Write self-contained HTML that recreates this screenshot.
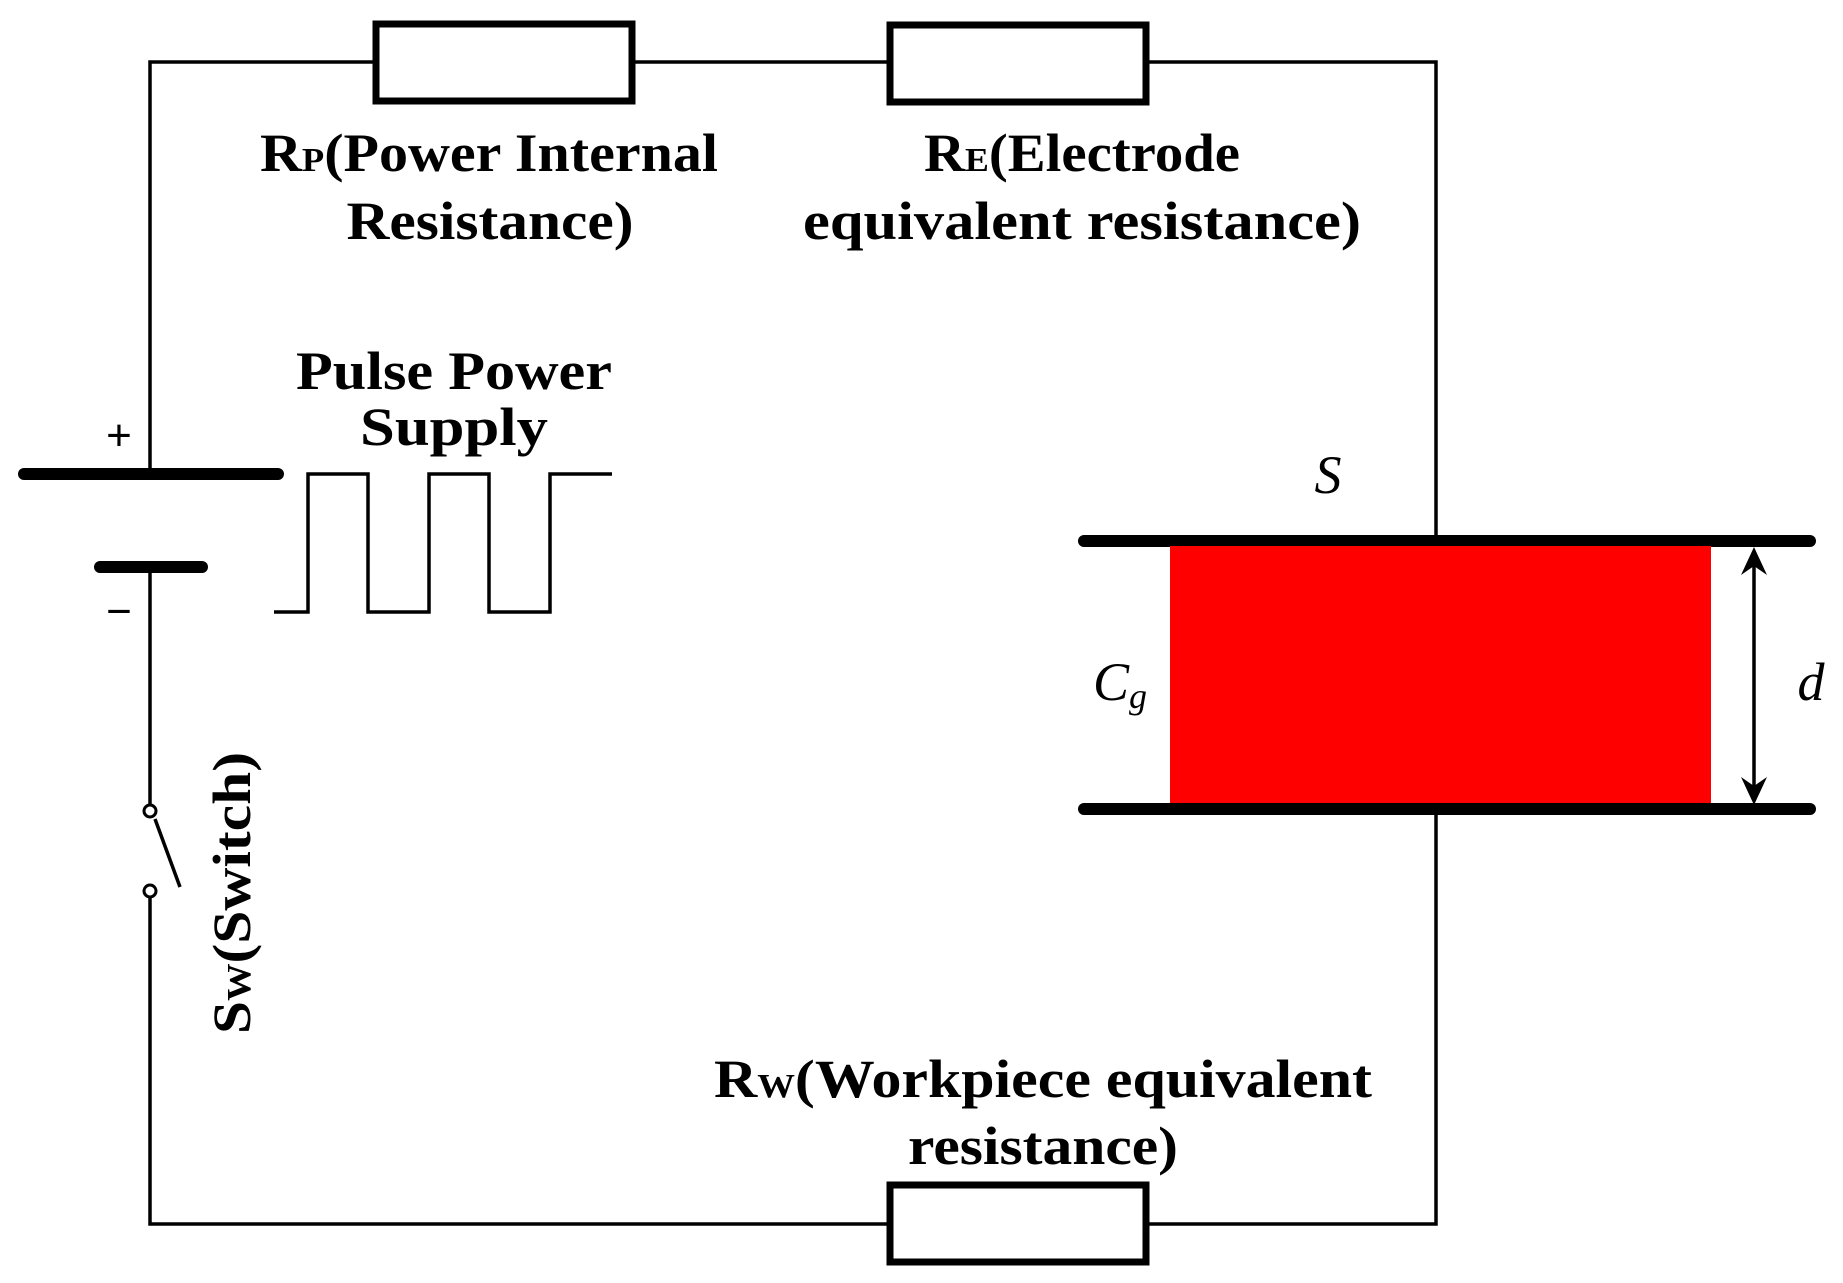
<!DOCTYPE html>
<html><head><meta charset="utf-8"><style>html,body{margin:0;padding:0;background:#fff}svg{display:block}</style></head>
<body>
<svg width="1843" height="1283" viewBox="0 0 1843 1283" xmlns="http://www.w3.org/2000/svg">
<g stroke="#000" fill="none" stroke-width="3.5">
<polyline points="150,474 150,62 376,62"/>
<line x1="632" y1="62" x2="890" y2="62"/>
<polyline points="1146,62 1436,62 1436,541"/>
<polyline points="1436,809 1436,1224 1146,1224"/>
<polyline points="890,1224 150,1224 150,891"/>
<line x1="150" y1="567" x2="150" y2="811"/>
<line x1="155" y1="819" x2="180" y2="887"/>
<polyline points="274,612 308,612 308,474 368,474 368,612 429,612 429,474 489,474 489,612 550,612 550,474 612,474"/>
</g>
<g stroke="#000" fill="#fff" stroke-width="7">
<rect x="376" y="24" width="256" height="77"/>
<rect x="890" y="25" width="256" height="77"/>
<rect x="890" y="1185" width="256" height="77"/>
</g>
<circle cx="150" cy="811" r="6" fill="#fff" stroke="#000" stroke-width="3"/>
<circle cx="150" cy="891" r="6" fill="#fff" stroke="#000" stroke-width="3"/>
<g stroke="#000" stroke-width="12" stroke-linecap="round">
<line x1="24" y1="474" x2="278" y2="474"/>
<line x1="100" y1="567" x2="202" y2="567"/>
<line x1="1084" y1="541" x2="1810" y2="541"/>
<line x1="1084" y1="809" x2="1810" y2="809"/>
</g>
<rect x="1170" y="546" width="541" height="257" fill="#ff0000"/>
<line x1="1754" y1="560" x2="1754" y2="792" stroke="#000" stroke-width="3.5"/>
<polygon points="1754,547 1741,575 1754,566 1767,575" fill="#000"/>
<polygon points="1754,805 1741,777 1754,786 1767,777" fill="#000"/>
<g font-family="Liberation Serif, serif" font-weight="bold" font-size="54" fill="#000" text-anchor="middle">
<text x="489" y="171" textLength="458" lengthAdjust="spacingAndGlyphs">R<tspan font-size="34">P</tspan>(Power Internal</text>
<text x="490" y="239" textLength="287" lengthAdjust="spacingAndGlyphs">Resistance)</text>
<text x="1082" y="171" textLength="316" lengthAdjust="spacingAndGlyphs">R<tspan font-size="34">E</tspan>(Electrode</text>
<text x="1082" y="239" textLength="558" lengthAdjust="spacingAndGlyphs">equivalent resistance)</text>
<text x="454" y="389" textLength="316" lengthAdjust="spacingAndGlyphs">Pulse Power</text>
<text x="454" y="445" textLength="188" lengthAdjust="spacingAndGlyphs">Supply</text>
<text x="1043" y="1097" textLength="658" lengthAdjust="spacingAndGlyphs">R<tspan font-size="34">W</tspan>(Workpiece equivalent</text>
<text x="1043" y="1164" textLength="270" lengthAdjust="spacingAndGlyphs">resistance)</text>
<text transform="translate(250,893) rotate(-90)" x="0" y="0" textLength="282" lengthAdjust="spacingAndGlyphs">S<tspan font-size="34">W</tspan>(Switch)</text>
</g>
<g font-family="Liberation Sans, sans-serif" font-size="44" fill="#000" text-anchor="middle">
<text x="119" y="450">+</text>
<text x="119" y="626">−</text>
</g>
<g font-family="Liberation Serif, serif" font-style="italic" font-size="54" fill="#000" text-anchor="middle">
<text x="1328" y="493">S</text>
<text x="1120" y="700">C<tspan font-size="36" dy="8">g</tspan></text>
<text x="1811" y="700">d</text>
</g>
</svg>
</body></html>
